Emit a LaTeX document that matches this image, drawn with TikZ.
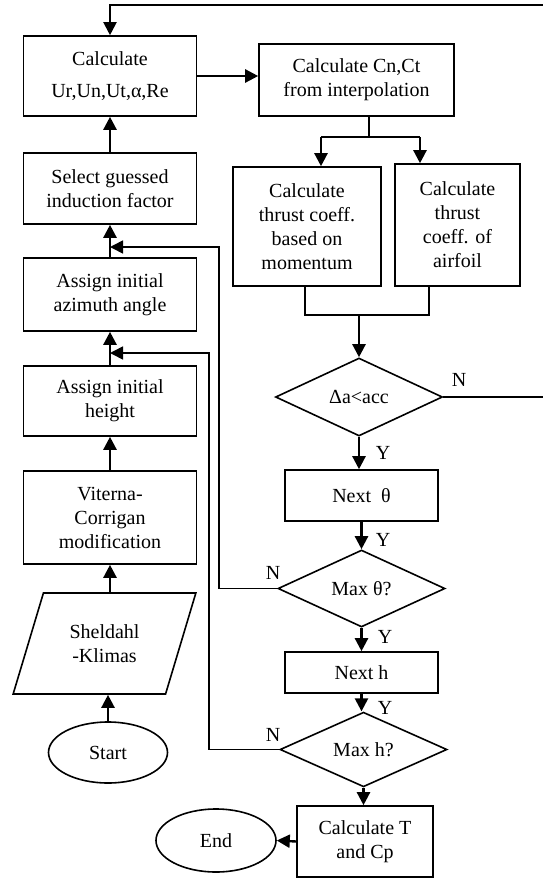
\documentclass[tikz,border=0pt]{standalone}
\usepackage{fontspec}
\setmainfont{Liberation Serif}
\usetikzlibrary{arrows.meta,shapes.geometric,calc}
\begin{document}
\begin{tikzpicture}[x=1pt,y=-1pt,
  txt/.style={font=\fontsize{20}{24}\selectfont},
  box/.style={txt,draw,line width=1.6pt,rectangle,inner sep=0pt,align=center},
  dia/.style={txt,draw,line width=1.6pt,diamond,inner sep=0pt,align=center},
  oval/.style={txt,draw,line width=1.6pt,ellipse,inner sep=0pt,align=center},
  arr/.style={line width=2.4pt,-{Triangle[width=13pt,length=13pt]}},
  thick line/.style={line width=2.4pt},
  thin line/.style={line width=1.6pt},
  thin arr/.style={line width=1.6pt,-{Triangle[width=13pt,length=13pt]}},
  lbl/.style={txt,inner sep=0pt}
]
\useasboundingbox (0,0) rectangle (543,879);

% left column
\node[box,minimum width=173pt,minimum height=80pt] (ur) at (110,76) {Calculate\\[8pt]Ur,Un,Ut,α,Re};
\node[box,minimum width=173pt,minimum height=71pt] (sel) at (110,188.5) {Select guessed\\induction factor};
\node[box,minimum width=173pt,minimum height=73pt] (azi) at (110,294.5) {Assign initial\\azimuth angle};
\node[box,minimum width=173pt,minimum height=70pt] (hei) at (110,401) {Assign initial\\height};
\node[box,minimum width=173pt,minimum height=93pt] (vit) at (110,517.5) {Viterna-\\Corrigan\\modification};
\node[txt,draw,line width=1.6pt,trapezium,trapezium left angle=65.5,trapezium right angle=114.5,
      trapezium stretches=true,minimum width=183pt,minimum height=101pt,inner sep=0pt,align=center]
      (shel) at (104.5,643.5) {Sheldahl\\-Klimas};
\node[oval,minimum width=119pt,minimum height=61pt] (start) at (108,752.5) {Start};

% right column
\node[box,minimum width=195pt,minimum height=72pt] (cn) at (356.5,80) {Calculate Cn,Ct\\from interpolation};
\node[box,minimum width=148pt,minimum height=119pt] (mom) at (307,226.5) {Calculate\\thrust coeff.\\based on\\momentum};
\node[box,minimum width=125pt,minimum height=122pt] (air) at (457.5,225) {Calculate\\thrust\\coeff. of\\airfoil};
\node[dia,minimum width=167pt,minimum height=78pt] (d1) at (359,397) {\raisebox{-6pt}{Δa<acc}};
\node[box,minimum width=153pt,minimum height=51pt] (nth) at (361.5,495.5) {\raisebox{-4pt}{Next\ \ θ}};
\node[dia,minimum width=167pt,minimum height=77pt] (d2) at (361.5,588.5) {\raisebox{-6pt}{Max θ?}};
\node[box,minimum width=153pt,minimum height=41pt] (nh) at (361.5,672.5) {Next h};
\node[dia,minimum width=167pt,minimum height=65pt] (d3) at (363.5,749.5) {Max h?};
\node[box,minimum width=136pt,minimum height=71pt] (ct) at (365,841.5) {Calculate T\\and Cp};
\node[oval,minimum width=120pt,minimum height=63pt] (endn) at (216,840.5) {End};

% labels
\node[lbl] (n1) at (459,380) {N};
\node[lbl] (y1) at (383,453) {Y};
\node[lbl] (y2) at (383,540) {Y};
\node[lbl] (n2) at (273,573) {N};
\node[lbl] (y3) at (385,637) {Y};
\node[lbl] (y4) at (385,708) {Y};
\node[lbl] (n3) at (273,735) {N};

% coordinates
\coordinate (rt) at (543.8,5);
\coordinate (sp) at (369,137);
\coordinate (spl) at (321,137);
\coordinate (spr) at (420,137);
\coordinate (jl) at (305,315);
\coordinate (jr) at (429,315);
\coordinate (jm) at (359,315);
\coordinate (fb1) at (219,247);
\coordinate (fb2) at (209,353);
\coordinate (m1) at (110,247);
\coordinate (m2) at (110,353);

% left column arrows
\draw[arr] (start.north) -- (start.north |- shel.south);
\draw[arr] (vit.south |- shel.north) -- (vit.south);
\draw[arr] (vit.north) -- (hei.south);
\draw[arr] (hei.north) -- (azi.south);
\draw[arr] (azi.north) -- (sel.south);
\draw[arr] (sel.north) -- (ur.north |- ur.south);
\draw[thick line,-{Triangle[width=13pt,length=13pt]}] (ur.east) -- (cn.west |- ur.east);

% split
\draw[thick line] (cn.south -| sp) -- (sp);
\draw[thick line] (spl) -- (spr);
\draw[arr] (spl) -- (spl |- mom.north);
\draw[arr] (spr) -- (spr |- air.north);

% join
\draw[thick line] (mom.south -| jl) -- (jl) -- (jr) -- (air.south -| jr);
\draw[arr] (jm) -- (jm |- d1.north);

% main chain
\draw[arr] (d1.south) -- (d1.south |- nth.north);
\draw[arr] (nth.south) -- (d2.north);
\draw[arr] (d2.south) -- (d2.south |- nh.north);
\draw[arr] (nh.south) -- (nh.south |- d3.north);
\draw[arr] (d3.south) -- (d3.south |- ct.north);
\draw[arr] (ct.west) -- (endn.east);

% loops
\draw[line width=2pt,-{Triangle[width=13pt,length=13pt]}] (d1.east) -| (rt) -| (ur.north);
\draw[thin arr] (d2.west) -| (fb1) -- (m1);
\draw[thin arr] (d3.west) -| (fb2) -- (m2);
\end{tikzpicture}
\end{document}
